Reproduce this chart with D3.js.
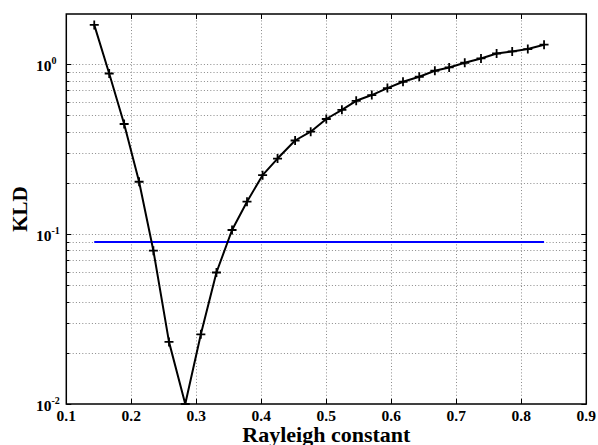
<!DOCTYPE html>
<html>
<head>
<meta charset="utf-8">
<script src="https://cdn.jsdelivr.net/npm/d3@7"></script>
<style>
  body { margin: 0; background: #fff; }
  text { font-family: "Liberation Serif", "DejaVu Serif", serif; font-weight: bold; fill: #000; }
</style>
</head>
<body>
<div id="chart"></div>
<script>
// Rayleigh constant values (x) and KLD (y)
var rayleigh = [0.143, 0.166, 0.189, 0.212, 0.234, 0.258, 0.283, 0.307, 0.331, 0.355,
                0.378, 0.402, 0.425, 0.452, 0.476, 0.500, 0.524, 0.546, 0.570, 0.594,
                0.618, 0.643, 0.667, 0.689, 0.713, 0.738, 0.762, 0.786, 0.810, 0.835];
var kld = [1.70, 0.88, 0.444, 0.203, 0.0798, 0.0232, 0.0100, 0.0257, 0.0594, 0.1056,
           0.155, 0.222, 0.278, 0.355, 0.40, 0.475, 0.538, 0.608, 0.657, 0.722,
           0.787, 0.842, 0.913, 0.955, 1.018, 1.079, 1.154, 1.186, 1.225, 1.30];
// horizontal threshold line
var threshold = 0.0897;

var xTicks = [0.1, 0.2, 0.3, 0.4, 0.5, 0.6, 0.7, 0.8, 0.9];
var yMajor = [0.01, 0.1, 1];
var yExp = ['-2', '-1', '0'];

var width = 598, height = 445;
// plot box edges (note: "top" is reserved on window, so use box.*)
var box = { left: 66.3, right: 586.3, top: 14, bottom: 404 };

var x = d3.scaleLinear().domain([0.1, 0.9]).range([box.left, box.right]);
var y = d3.scaleLog().domain([0.01, 1.97]).range([box.bottom, box.top]);

// minor log ticks 2..9 per decade that fall inside the domain
var yMinor = [];
yMajor.forEach(function(m) {
  for (var k = 2; k <= 9; k++) {
    var v = m * k;
    if (v < y.domain()[1]) yMinor.push(v);
  }
});

var svg = d3.select('#chart').append('svg')
  .attr('width', width)
  .attr('height', height);

// dotted grid
var grid = svg.append('g')
  .attr('stroke', '#8a8a8a')
  .attr('stroke-width', 1)
  .attr('stroke-dasharray', '1,2.2');

grid.selectAll('.vgrid')
  .data(xTicks.slice(1, -1))
  .enter().append('line')
  .attr('x1', function(d) { return Math.round(x(d)) + 0.5; })
  .attr('x2', function(d) { return Math.round(x(d)) + 0.5; })
  .attr('y1', box.top).attr('y2', box.bottom);

grid.selectAll('.hgrid')
  .data(yMinor.concat([0.1, 1]))
  .enter().append('line')
  .attr('y1', function(d) { return Math.round(y(d)) + 0.5; })
  .attr('y2', function(d) { return Math.round(y(d)) + 0.5; })
  .attr('x1', box.left).attr('x2', box.right);

// ticks (inward, on all four sides)
var ticks = svg.append('g').attr('stroke', '#000').attr('stroke-width', 1);
xTicks.forEach(function(d) {
  var px = Math.round(x(d)) + 0.5;
  ticks.append('line').attr('x1', px).attr('x2', px).attr('y1', box.bottom).attr('y2', box.bottom - 5);
  ticks.append('line').attr('x1', px).attr('x2', px).attr('y1', box.top).attr('y2', box.top + 5);
});
yMajor.concat(yMinor).forEach(function(d) {
  var len = yMajor.indexOf(d) >= 0 ? 5 : 3;
  var py = Math.round(y(d)) + 0.5;
  ticks.append('line').attr('x1', box.left).attr('x2', box.left + len).attr('y1', py).attr('y2', py);
  ticks.append('line').attr('x1', box.right).attr('x2', box.right - len).attr('y1', py).attr('y2', py);
});

// blue threshold line spanning the data range
svg.append('line')
  .attr('x1', x(rayleigh[0]))
  .attr('x2', x(rayleigh[rayleigh.length - 1]))
  .attr('y1', y(threshold))
  .attr('y2', y(threshold))
  .attr('stroke', '#0000ff')
  .attr('stroke-width', 2);

// KLD curve
var pts = rayleigh.map(function(r, i) { return { x: r, y: kld[i] }; });

svg.append('clipPath').attr('id', 'plotclip')
  .append('rect').attr('x', box.left).attr('y', box.top)
  .attr('width', box.right - box.left).attr('height', box.bottom - box.top + 1);

var plot = svg.append('g').attr('clip-path', 'url(#plotclip)');

plot.append('path')
  .datum(pts)
  .attr('fill', 'none')
  .attr('stroke', '#000')
  .attr('stroke-width', 2)
  .attr('stroke-linejoin', 'round')
  .attr('d', d3.line()
    .x(function(d) { return x(d.x); })
    .y(function(d) { return y(d.y); }));

plot.selectAll('.marker')
  .data(pts)
  .enter().append('path')
  .attr('fill', 'none')
  .attr('stroke', '#000')
  .attr('stroke-width', 1.8)
  .attr('d', function(d) {
    var cx = x(d.x), cy = y(d.y), s = 4.5;
    return 'M' + (cx - s) + ',' + cy + 'H' + (cx + s) + 'M' + cx + ',' + (cy - s) + 'V' + (cy + s);
  });

// plot box
svg.append('rect')
  .attr('x', box.left).attr('y', box.top)
  .attr('width', box.right - box.left).attr('height', box.bottom - box.top)
  .attr('fill', 'none')
  .attr('stroke', '#000')
  .attr('stroke-width', 1.5);

// x tick labels
svg.selectAll('.xlab')
  .data(xTicks)
  .enter().append('text')
  .attr('x', function(d) { return x(d); })
  .attr('y', 420.5)
  .attr('text-anchor', 'middle')
  .style('font-size', '15.5px')
  .text(function(d) { return d3.format('.1f')(d); });

// y tick labels, 10 with superscript exponent
yMajor.forEach(function(d, i) {
  var t = svg.append('text')
    .attr('x', 36)
    .attr('y', y(d) + 6.5)
    .style('font-size', '15.5px');
  t.append('tspan').text('10');
  t.append('tspan')
    .attr('dy', -7)
    .style('font-size', '10px')
    .text(yExp[i]);
});

// axis titles
svg.append('text')
  .attr('x', (box.left + box.right) / 2)
  .attr('y', 441.5)
  .attr('text-anchor', 'middle')
  .style('font-size', '22px')
  .text('Rayleigh constant');

svg.append('text')
  .attr('transform', 'translate(26.5,' + ((box.top + box.bottom) / 2) + ') rotate(-90)')
  .attr('text-anchor', 'middle')
  .style('font-size', '21px')
  .text('KLD');
</script>
</body>
</html>
